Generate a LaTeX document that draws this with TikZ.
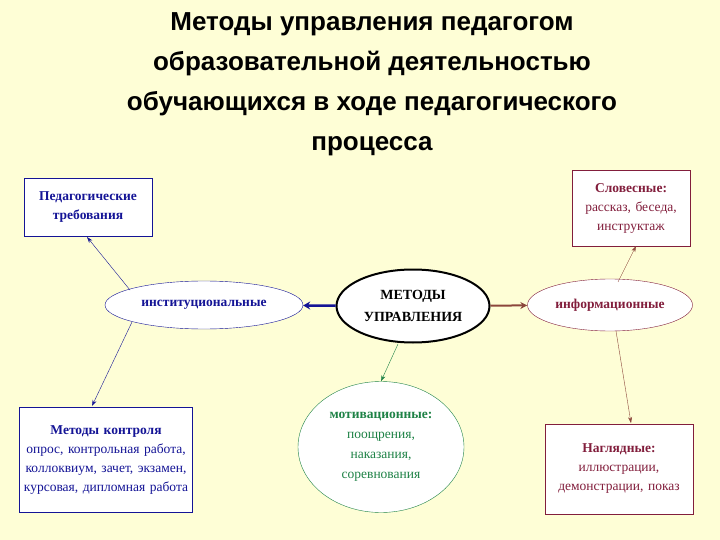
\documentclass[tikz,border=0pt]{standalone}
\usepackage{fontspec}
\setmainfont{Liberation Serif}
\newfontfamily\titlefont{Liberation Sans}
\usetikzlibrary{shapes.geometric,arrows.meta}
\definecolor{bg}{RGB}{254,254,214}
\definecolor{dblue}{RGB}{20,20,150}
\definecolor{wine}{RGB}{130,30,60}
\definecolor{brownar}{RGB}{140,70,60}
\definecolor{dgreen}{RGB}{30,130,70}
\begin{document}
\begin{tikzpicture}[x=1pt,y=-1pt,
  box/.style={draw,fill=white,inner sep=2pt,align=center,font=\fontsize{13.5}{19}\selectfont},
  ell/.style={ellipse,draw,fill=white,inner sep=0pt},
  con/.style={-{Stealth[length=6pt,width=4pt]},thin}]
\fill[bg] (0,0) rectangle (720,540);
\useasboundingbox (0,0) rectangle (720,540);
\node[font=\titlefont\bfseries\fontsize{26}{40}\selectfont,align=center] (title) at (372,84)
 {Методы управления педагогом\\образовательной деятельностью\\обучающихся в ходе педагогического\\процесса};
\node[box,draw=dblue,text=dblue,minimum width=128,minimum height=58,text width=124] (ped) at (88,207) {\textbf{Педагогические}\\\textbf{требования}};
\node[box,draw=dblue,text=dblue,minimum width=173,minimum height=105,text width=169] (kontr) at (106,460) {\textbf{Методы контроля}\\опрос, контрольная работа,\\коллоквиум, зачет, экзамен,\\курсовая, дипломная работа};
\node[box,draw=wine,text=wine,minimum width=118,minimum height=76,text width=114] (slov) at (631,208) {\textbf{Словесные:}\\рассказ, беседа,\\инструктаж};
\node[box,draw=wine,text=wine,minimum width=148,minimum height=90,text width=144] (nagl) at (619,469) {\textbf{Наглядные:}\\иллюстрации,\\демонстрации, показ\\[6pt]};
\node[ell,draw=dblue,text=dblue,minimum width=198,minimum height=48,font=\bfseries\fontsize{13.5}{14}\selectfont] (inst) at (204,305) {институциональные};
\node[ell,line width=2pt,minimum width=153,minimum height=73,align=center,font=\bfseries\fontsize{14}{22}\selectfont] (center) at (413,306) {МЕТОДЫ\\УПРАВЛЕНИЯ};
\node[ell,draw=wine,text=wine,minimum width=165,minimum height=52,font=\bfseries\fontsize{13.5}{14}\selectfont] (info) at (610,305) {информационные};
\node[ell,draw=dgreen,text=dgreen,minimum width=166,minimum height=131,align=center,font=\fontsize{13.5}{20}\selectfont] (motiv) at (381,447) {\textbf{мотивационные:}\\поощрения,\\наказания,\\соревнования};
\draw[draw=dblue,line width=2.5pt,-{Stealth[length=7pt,width=8pt]}] (center) -- (inst);
\draw[draw=brownar,line width=2pt,-{Stealth[length=7pt,width=7pt]}] (center) -- (info);
\coordinate (cs) at (398,344);
\draw[con,draw=dgreen] (cs) -- (motiv.north);
\coordinate (i1) at (130,290);
\coordinate (i2) at (132,322);
\coordinate (f1) at (618,282);
\coordinate (f2) at (616,331);
\draw[con,draw=dblue] (i1) -- (87,237) coordinate (pe);
\draw[con,draw=dblue] (i2) -- (92,406) coordinate (ko);
\draw[con,draw=brownar] (f1) -- (636,246) coordinate (sl);
\draw[con,draw=brownar] (f2) -- (631,423) coordinate (na);
\end{tikzpicture}
\end{document}
